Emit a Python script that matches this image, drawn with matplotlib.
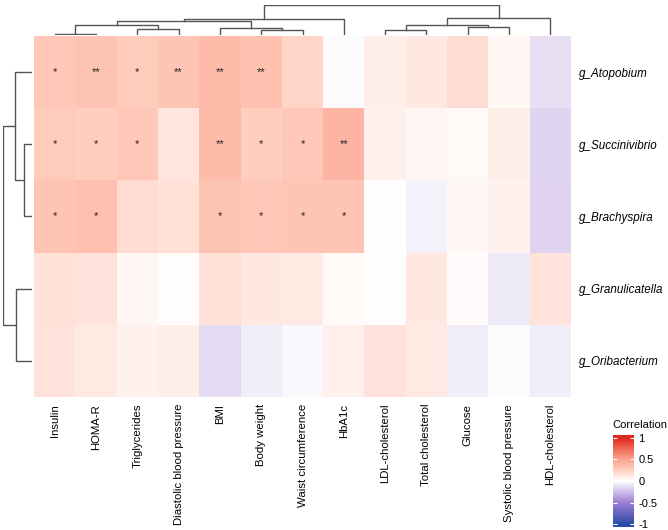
import numpy as np
import matplotlib.pyplot as plt
from matplotlib.colors import LinearSegmentedColormap, Normalize

plt.rcParams['font.family'] = ['Liberation Sans', 'DejaVu Sans']

genera = ['g_Atopobium', 'g_Succinivibrio', 'g_Brachyspira', 'g_Granulicatella', 'g_Oribacterium']
traits = ['Insulin', 'HOMA-R', 'Triglycerides', 'Diastolic blood pressure', 'BMI', 'Body weight',
          'Waist circumference', 'HbA1c', 'LDL-cholesterol', 'Total cholesterol', 'Glucose',
          'Systolic blood pressure', 'HDL-cholesterol']

r_atopobium = [0.30, 0.32, 0.28, 0.31, 0.36, 0.34, 0.22, -0.02, 0.10, 0.12, 0.18, 0.04, -0.12]
r_succinivibrio = [0.28, 0.26, 0.30, 0.14, 0.36, 0.26, 0.30, 0.40, 0.08, 0.05, 0.03, 0.10, -0.16]
r_brachyspira = [0.31, 0.33, 0.18, 0.16, 0.32, 0.30, 0.31, 0.31, 0.00, -0.05, 0.04, 0.07, -0.17]
r_granulicatella = [0.16, 0.15, 0.04, 0.01, 0.16, 0.12, 0.11, 0.03, 0.00, 0.12, 0.02, -0.08, 0.15]
r_oribacterium = [0.15, 0.11, 0.07, 0.10, -0.14, -0.07, -0.03, 0.08, 0.15, 0.11, -0.07, -0.02, -0.07]

sig_atopobium = ['*', '**', '*', '**', '**', '**', '', '', '', '', '', '', '']
sig_succinivibrio = ['*', '*', '*', '', '**', '*', '*', '**', '', '', '', '', '']
sig_brachyspira = ['*', '*', '', '', '*', '*', '*', '*', '', '', '', '', '']
sig_granulicatella = [''] * 13
sig_oribacterium = [''] * 13

# dendrogram merges: (left, right, height); ids >= n refer to earlier merges
col_merges = [(0, 1, 1.0), (2, 3, 6.0), (5, 6, 4.3), (8, 9, 5.0), (10, 11, 7.7),
              (13, 14, 9.3), (4, 15, 7.0), (16, 17, 10.0), (18, 19, 13.7),
              (21, 7, 15.3), (20, 12, 16.3), (22, 23, 29.3)]
row_merges = [(1, 2, 7.7), (3, 4, 16.0), (0, 5, 16.4), (7, 6, 29.0)]

values = np.array([r_atopobium, r_succinivibrio, r_brachyspira, r_granulicatella, r_oribacterium])
stars = [sig_atopobium, sig_succinivibrio, sig_brachyspira, sig_granulicatella, sig_oribacterium]

stops = [(0.0, (45, 75, 170)), (0.25, (160, 125, 212)), (0.5, (255, 255, 255)),
         (0.625, (255, 208, 193)), (0.75, (252, 163, 143)), (0.875, (240, 105, 85)), (1.0, (221, 42, 31))]
cmap = LinearSegmentedColormap.from_list('corr', [(p, tuple(c / 255 for c in rgb)) for p, rgb in stops])
norm = Normalize(-1, 1)


def dendro(ax, merges, n, orient):
    pos = {i: i for i in range(n)}
    hgt = {i: 0.0 for i in range(n)}
    for k, (a, b, h) in enumerate(merges):
        xs = [pos[a], pos[a], pos[b], pos[b]]
        ys = [hgt[a], h, h, hgt[b]]
        if orient == 'top':
            ax.plot(xs, ys, color='#555555', lw=1)
        else:
            ax.plot(ys, xs, color='#555555', lw=1)
        pos[n + k] = (pos[a] + pos[b]) / 2
        hgt[n + k] = h
    ax.axis('off')


W, H = 668, 530
fig = plt.figure(figsize=(W / 100, H / 100), dpi=100)


def px_axes(x0, y0, x1, y1):
    return fig.add_axes([x0 / W, 1 - y1 / H, (x1 - x0) / W, (y1 - y0) / H])


ax = px_axes(34, 36, 571, 397)
ax.pcolormesh(values, cmap=cmap, norm=norm)
ax.set_xlim(0, len(traits))
ax.set_ylim(len(genera), 0)
for i in range(len(genera)):
    for j in range(len(traits)):
        if stars[i][j]:
            ax.text(j + 0.5, i + 0.5, stars[i][j], ha='center', va='center', fontsize=8, color='#222222')
ax.set_xticks(np.arange(len(traits)) + 0.5)
ax.set_xticklabels(traits, rotation=90, fontsize=8.2)
ax.set_yticks(np.arange(len(genera)) + 0.5)
ax.set_yticklabels(genera, fontsize=8.4, style='italic')
ax.yaxis.tick_right()
ax.tick_params(axis='x', length=0, pad=5)
ax.tick_params(axis='y', length=0, pad=6)
for s in ax.spines.values():
    s.set_visible(False)

axc = px_axes(34, 5, 571, 34.7)
dendro(axc, col_merges, len(traits), 'top')
axc.set_xlim(-0.5, len(traits) - 0.5)
axc.set_ylim(0, 29.3)

axr = px_axes(2.7, 36, 31.7, 397)
dendro(axr, row_merges, len(genera), 'left')
axr.set_ylim(len(genera) - 0.5, -0.5)
axr.set_xlim(29.0, 0)

axl = px_axes(613, 435, 634, 527)
grad = np.linspace(-1.06, 1.06, 200).reshape(-1, 1)
axl.imshow(grad, cmap=cmap, norm=norm, aspect='auto', origin='lower', extent=[0, 1, -1.06, 1.06])
axl.set_xticks([])
axl.set_yticks([-1, -0.5, 0, 0.5, 1])
axl.set_yticklabels(['-1', '-0.5', '0', '0.5', '1'], fontsize=8)
axl.yaxis.tick_right()
axl.tick_params(axis='y', direction='in', length=3, color='white', pad=3, left=True)
for s in axl.spines.values():
    s.set_visible(False)
fig.text(612 / W, 1 - 425 / H, 'Correlation', fontsize=8, ha='left', va='center')

fig.savefig('out.png', dpi=100)
